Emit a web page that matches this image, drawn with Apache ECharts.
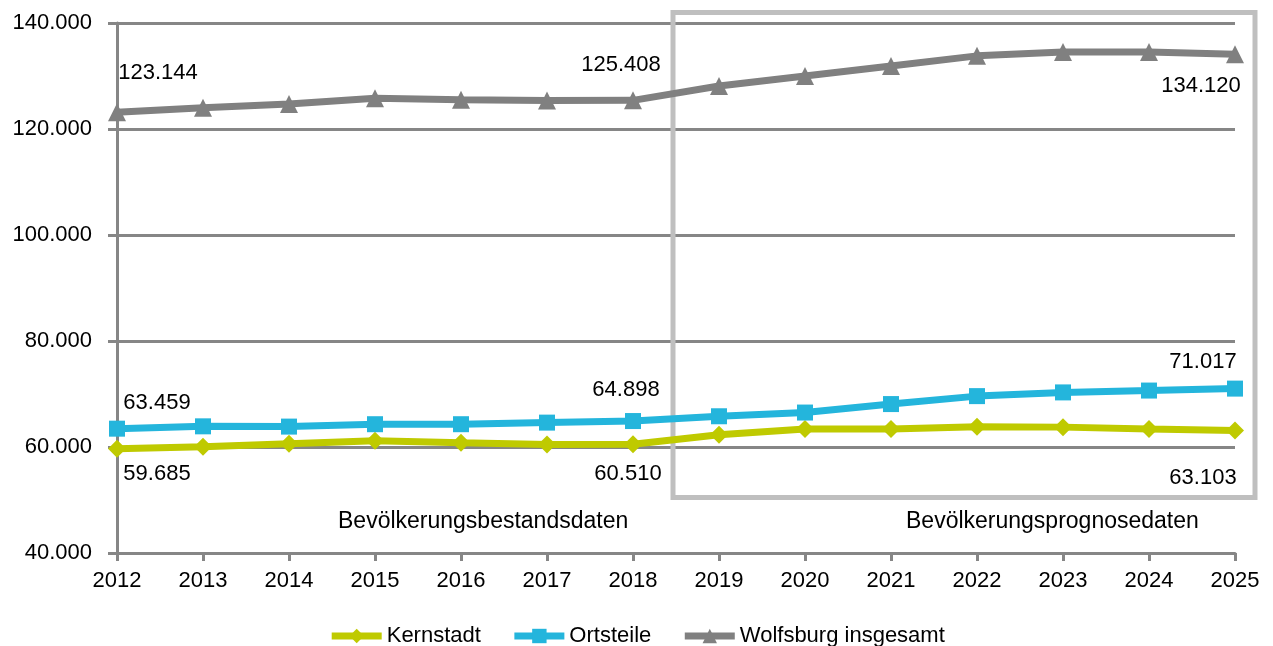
<!DOCTYPE html>
<html>
<head>
<meta charset="utf-8">
<script src="https://cdn.jsdelivr.net/npm/echarts@6/dist/echarts.min.js"></script>
<style>
  html, body { margin: 0; padding: 0; background: #fff; }
  #chart { width: 1273px; height: 646px; }
</style>
</head>
<body>
<div id="chart"></div>
<script>
// Jahre
var years = ['2012', '2013', '2014', '2015', '2016', '2017', '2018', '2019', '2020', '2021', '2022', '2023', '2024', '2025']
// Einwohner
var kernstadt = [59685, 60050, 60600, 61200, 60800, 60450, 60510, 62300, 63400, 63400, 63800, 63750, 63400, 63103]
var ortsteile = [63459, 63900, 63850, 64300, 64300, 64600, 64898, 65800, 66500, 68100, 69600, 70300, 70650, 71017]
var insgesamt = [123144, 124000, 124700, 125800, 125500, 125400, 125408, 128100, 130000, 131900, 133800, 134550, 134550, 134120]
var seriesNames = ['Kernstadt', 'Ortsteile', 'Wolfsburg insgesamt']
var yTicks = { min: 40000, max: 140000, interval: 20000 }

var FONT = 'Liberation Sans, Arial, sans-serif'

var fmt = function (v) {
  return String(v).replace(/\B(?=(\d{3})+(?!\d))/g, '.')
}

// Beschriftung nur am Anfang, 2018 und am Ende
function withLabels (values, pos) {
  return values.map(function (v, i) {
    if (i === 0) return { value: v, label: { show: true, position: pos[0], offset: pos[1] } }
    if (i === 6) return { value: v, label: { show: true, position: pos[0], offset: pos[2] } }
    if (i === values.length - 1) return { value: v, label: { show: true, position: pos[0], offset: pos[3] } }
    return v
  })
}

var chart = echarts.init(document.getElementById('chart'))
var labelStyle = {
  fontFamily: FONT,
  fontSize: 22,
  color: '#000',
  formatter: function (p) { return fmt(p.value) }
}

chart.setOption({
  animation: false,
  textStyle: { fontFamily: FONT },
  grid: { left: 117, right: 38, top: 23, bottom: 93 },
  legend: {
    top: 620,
    left: 'center',
    itemWidth: 50,
    itemHeight: 18,
    itemGap: 30,
    lineStyle: { width: 7 },
    textStyle: { fontSize: 22, color: '#000' },
    data: seriesNames
  },
  xAxis: {
    type: 'category',
    boundaryGap: false,
    data: years,
    axisLine: { lineStyle: { color: '#868686', width: 3 } },
    axisTick: { alignWithLabel: true, length: 8, lineStyle: { color: '#868686', width: 3 } },
    axisLabel: { fontSize: 22, color: '#000', margin: 17 }
  },
  yAxis: {
    type: 'value',
    min: yTicks.min,
    max: yTicks.max,
    interval: yTicks.interval,
    axisLine: { show: true, lineStyle: { color: '#868686', width: 3 } },
    axisTick: { show: true, length: 9, lineStyle: { color: '#868686', width: 3 } },
    axisLabel: { fontSize: 22, color: '#000', margin: 25, formatter: fmt },
    splitLine: { lineStyle: { color: '#868686', width: 3 } }
  },
  graphic: [
    {
      type: 'rect',
      shape: { x: 673, y: 12.5, width: 582, height: 485 },
      style: { fill: 'none', stroke: '#bfbfbf', lineWidth: 5 },
      z: 1
    },
    {
      type: 'text',
      left: 338, top: 510,
      style: { text: 'Bevölkerungsbestandsdaten', fontSize: 23, fill: '#000', fontFamily: FONT }
    },
    {
      type: 'text',
      left: 906, top: 510,
      style: { text: 'Bevölkerungsprognosedaten', fontSize: 23, fill: '#000', fontFamily: FONT }
    }
  ],
  series: [
    {
      name: seriesNames[0],
      type: 'line',
      data: withLabels(kernstadt, ['bottom', [40, 0], [-5, 5], [-32, 22]]),
      symbol: 'diamond',
      symbolSize: 18,
      lineStyle: { width: 7, color: '#bfca00' },
      itemStyle: { color: '#bfca00' },
      label: labelStyle,
      z: 3
    },
    {
      name: seriesNames[1],
      type: 'line',
      data: withLabels(ortsteile, ['top', [40, -2], [-7, -7], [-32, -3]]),
      symbol: 'rect',
      symbolSize: 16,
      lineStyle: { width: 7, color: '#24b5dc' },
      itemStyle: { color: '#24b5dc' },
      label: labelStyle,
      z: 4
    },
    {
      name: seriesNames[2],
      type: 'line',
      data: withLabels(insgesamt, ['top', [41, -14], [-12, -10], [-34, 57]]),
      symbol: 'triangle',
      symbolSize: 18,
      lineStyle: { width: 7, color: '#808080' },
      itemStyle: { color: '#808080' },
      label: labelStyle,
      z: 5
    }
  ]
})
</script>
</body>
</html>
